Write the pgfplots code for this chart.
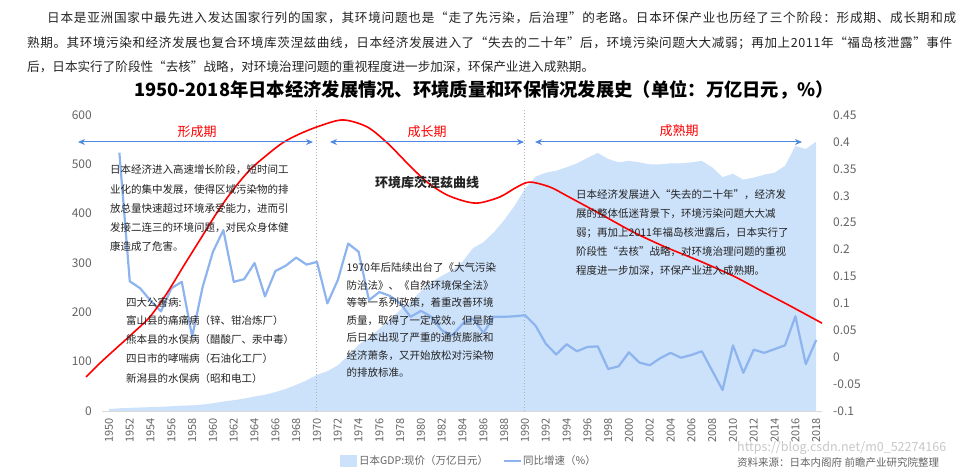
\documentclass[border=0pt]{standalone}
\usepackage{fontspec}
\setmainfont{Noto Sans CJK SC}
\usepackage{pgfplots}
\usepackage{pgfplotstable}
\pgfplotsset{compat=1.18}
\usetikzlibrary{arrows.meta}
\definecolor{areablue}{RGB}{204,225,250}
\definecolor{lineblue}{RGB}{141,180,238}
\definecolor{arrowblue}{RGB}{76,136,228}
\definecolor{tickgray}{RGB}{100,100,100}
\definecolor{txt}{RGB}{35,35,35}
\newcommand{\fs}[1]{\fontsize{#1}{#1}\selectfont}

\pgfplotstableread{
year gdp
1950 4.0
1951 5.5
1952 6.3
1953 7.1
1954 7.8
1955 8.5
1956 9.6
1957 10.9
1958 11.4
1959 13.0
1960 15.6
1961 19.2
1962 21.9
1963 25.1
1964 29.5
1965 32.9
1966 38.2
1967 44.7
1968 53.0
1969 62.1
1970 73.3
1971 80.7
1972 92.4
1973 112.5
1974 134.2
1975 148.3
1976 166.6
1977 185.6
1978 204.4
1979 221.5
1980 242.8
1981 261.1
1982 274.1
1983 285.1
1984 302.9
1985 330
1986 342
1987 362
1988 387
1989 416
1990 450
1991 475
1992 483
1993 487
1994 494
1995 502
1996 513
1997 523
1998 511
1999 504
2000 507
2001 504
2002 500
2003 500
2004 502
2005 502
2006 504
2007 507
2008 494
2009 474
2010 481
2011 469
2012 473
2013 479
2014 483
2015 497
2016 537
2017 531
2018 546
}\gdptable

\pgfplotstableread{
year g
1951 0.380
1952 0.141
1953 0.128
1954 0.105
1955 0.085
1956 0.128
1957 0.140
1958 0.038
1959 0.130
1960 0.196
1961 0.236
1962 0.140
1963 0.145
1964 0.175
1965 0.113
1966 0.160
1967 0.170
1968 0.185
1969 0.172
1970 0.177
1971 0.100
1972 0.143
1973 0.211
1974 0.196
1975 0.106
1976 0.121
1977 0.114
1978 0.100
1979 0.075
1980 0.086
1981 0.075
1982 0.050
1983 0.040
1984 0.062
1985 0.072
1986 0.045
1987 0.075
1988 0.075
1989 0.076
1990 0.078
1991 0.059
1992 0.025
1993 0.005
1994 0.024
1995 0.011
1996 0.019
1997 0.020
1998 -0.022
1999 -0.017
2000 0.009
2001 -0.010
2002 -0.015
2003 -0.002
2004 0.008
2005 -0.001
2006 0.004
2007 0.011
2008 -0.025
2009 -0.061
2010 0.022
2011 -0.029
2012 0.014
2013 0.008
2014 0.015
2015 0.022
2016 0.076
2017 -0.013
2018 0.032
}\growthtable

\pgfplotstableread{
x y
1947.79 69
1949.13 97
1950.74 128
1952.31 158
1953.94 191
1955.58 239
1957.12 292
1958.75 347
1960.38 402
1961.92 448
1963.56 489
1965.19 519
1966.73 544
1968.37 562
1970.29 578
1972.5 590
1974.81 576
1976.73 544
1978.65 503
1980.58 464
1982.5 438
1984.42 424
1985.67 422
1987.6 434
1989.23 454
1990.48 464
1992.4 454
1994.04 436
1997.2 400
2000.38 363
2003.65 331
2006.8 304
2010.0 274
2012.6 245
2015.5 213
2018.56 178
}\kuznets

\begin{document}
\begin{tikzpicture}[x=1pt,y=1pt]
\path[use as bounding box] (0,0) rectangle (964,468);

% ---------- primary axis: GDP area ----------
\begin{axis}[
  at={(102pt,57pt)}, anchor=south west,
  scale only axis, width=720pt, height=296pt,
  xmin=1949.33, xmax=2018.56, ymin=0, ymax=600,
  axis x line*=bottom, axis y line*=left,
  x axis line style={draw=black!15, line width=0.8pt, -},
  y axis line style={draw=none},
  major tick length=0pt,
  xtick={1950,1952,...,2018},
  ytick={0,100,...,600},
  /pgf/number format/1000 sep={},
  /pgf/number format/assume math mode=true,
  xticklabel style={rotate=90, anchor=east, inner sep=0pt, text=tickgray, font=\fs{11}},
  xticklabel shift=7pt,
  yticklabel style={anchor=east, inner sep=0pt, text=tickgray, font=\fs{12}},
  yticklabel shift=10pt,
  clip=false,
]
\addplot[fill=areablue, draw=none] table[x=year, y=gdp] {\gdptable} \closedcycle;
\addplot[draw=black!30, dotted, line width=1pt] coordinates {(1970,0) (1970,610)};
\addplot[draw=black!30, dotted, line width=1pt] coordinates {(1990,0) (1990,610)};
\end{axis}

% ---------- secondary axis: growth ----------
\begin{axis}[
  at={(102pt,57pt)}, anchor=south west,
  scale only axis, width=720pt, height=296pt,
  xmin=1949.33, xmax=2018.56, ymin=-0.1, ymax=0.45,
  axis x line=none, axis y line*=right,
  y axis line style={draw=none},
  major tick length=0pt,
  ytick={-0.1,-0.05,0,0.05,0.1,0.15,0.2,0.25,0.3,0.35,0.4,0.45},
  scaled y ticks=false,
  yticklabel style={anchor=west, inner sep=0pt, text=tickgray, font=\fs{12},
    /pgf/number format/fixed, /pgf/number format/precision=2},
  /pgf/number format/assume math mode=true,
  yticklabel shift=11pt,
]
\addplot[lineblue, line width=2.2pt, line join=round, no markers] table[x=year, y=g] {\growthtable};
\end{axis}

% ---------- Kuznets curve (left scale) ----------
\begin{axis}[
  at={(102pt,57pt)}, anchor=south west,
  scale only axis, width=720pt, height=296pt,
  xmin=1949.33, xmax=2018.56, ymin=0, ymax=600,
  hide axis, clip=false,
]
\addplot[red, line width=1.6pt, smooth, no markers] table[x=x, y=y] {\kuznets};
\end{axis}

% ---------- arrows & period labels ----------
\draw[arrowblue, line width=1pt, {Stealth[length=7pt,width=6pt]}-{Stealth[length=7pt,width=6pt]}] (78,326) -- (313,326);
\draw[arrowblue, line width=1pt, {Stealth[length=7pt,width=6pt]}-{Stealth[length=7pt,width=6pt]}] (330,326) -- (524,326);
\draw[arrowblue, line width=1pt, {Stealth[length=7pt,width=6pt]}-{Stealth[length=7pt,width=6pt]}] (535,326) -- (802,326);
\node[red, font=\fs{13}] at (197,336) {形成期};
\node[red, font=\fs{13}] at (427,336) {成长期};
\node[red, font=\fs{13}] at (679,337) {成熟期};

\node[txt, font=\fs{13}\bfseries] at (427,285) {环境库茨涅兹曲线};

% ---------- title ----------
\node[black, font=\fs{18.3}\bfseries] at (484,378) {1950-2018年日本经济发展情况、环境质量和环保情况发展史（单位：万亿日元，\%）};

% ---------- top paragraph ----------
\node[txt, anchor=west, inner sep=0pt, font=\fs{12.6}\addfontfeatures{LetterSpace=6.2}] at (47,450) {日本是亚洲国家中最先进入发达国家行列的国家，其环境问题也是“走了先污染，后治理”的老路。日本环保产业也历经了三个阶段：形成期、成长期和成};
\node[txt, anchor=west, inner sep=0pt, font=\fs{12.6}\addfontfeatures{LetterSpace=4.5}] at (27,425) {熟期。其环境污染和经济发展也复合环境库茨涅兹曲线，日本经济发展进入了“失去的二十年”后，环境污染问题大大减弱；再加上2011年“福岛核泄露”事件};
\node[txt, anchor=west, inner sep=0pt, font=\fs{12.6}] at (27,401) {后，日本实行了阶段性“去核”战略，对环境治理问题的重视程度进一步加深，环保产业进入成熟期。};

% ---------- annotation blocks ----------
\begin{scope}[every node/.style={txt, anchor=west, inner sep=0pt, font=\fs{10.5}}]
\node at (110,298) {日本经济进入高速增长阶段，短时间工};
\node at (110,278.8) {业化的集中发展，使得区域污染物的排};
\node at (110,259.6) {放总量快速超过环境承受能力，进而引};
\node at (110,240.4) {发接二连三的环境问题，对民众身体健};
\node at (110,221.2) {康造成了危害。};

\node at (126,165.7) {四大公害病:};
\node at (126,147) {富山县的痛痛病（锌、钳冶炼厂）};
\node at (126,128) {熊本县的水俣病（醋酸厂、汞中毒）};
\node at (126,109) {四日市的哮喘病（石油化工厂）};
\node at (126,89.7) {新潟县的水俣病（昭和电工）};

\node at (346.5,200) {1970年后陆续出台了《大气污染};
\node at (346.5,182.5) {防治法》、《自然环境保全法》};
\node at (346.5,165) {等等一系列政策，着重改善环境};
\node at (346.5,147.5) {质量，取得了一定成效。但是随};
\node at (346.5,130) {后日本出现了严重的通货膨胀和};
\node at (346.5,112.5) {经济萧条，又开始放松对污染物};
\node at (346.5,95) {的排放标准。};

\node at (576,273) {日本经济发展进入“失去的二十年”，经济发};
\node at (576,254) {展的整体低迷背景下，环境污染问题大大减};
\node at (576,235) {弱；再加上2011年福岛核泄露后，日本实行了};
\node at (576,216) {阶段性“去核”战略，对环境治理问题的重视};
\node at (576,197) {程度进一步加深，环保产业进入成熟期。};
\end{scope}

% ---------- legend ----------
\fill[areablue] (340,1) rectangle (357,13);
\node[anchor=west, inner sep=0pt, text=tickgray, font=\fs{10.5}] at (359,7) {日本GDP:现价（万亿日元）};
\draw[lineblue, line width=2.2pt] (504,7) -- (521,7);
\node[anchor=west, inner sep=0pt, text=tickgray, font=\fs{10.5}] at (523,7) {同比增速（\%）};

% ---------- watermark / source ----------
\node[anchor=west, inner sep=0pt, text=black!22, font=\fs{12.5}] at (737,20) {https://blog.csdn.net/m0\_52274166};
\node[anchor=west, inner sep=0pt, text=tickgray, font=\fs{10.5}] at (737,6) {资料来源：日本内阁府 前瞻产业研究院整理};
\end{tikzpicture}
\end{document}
